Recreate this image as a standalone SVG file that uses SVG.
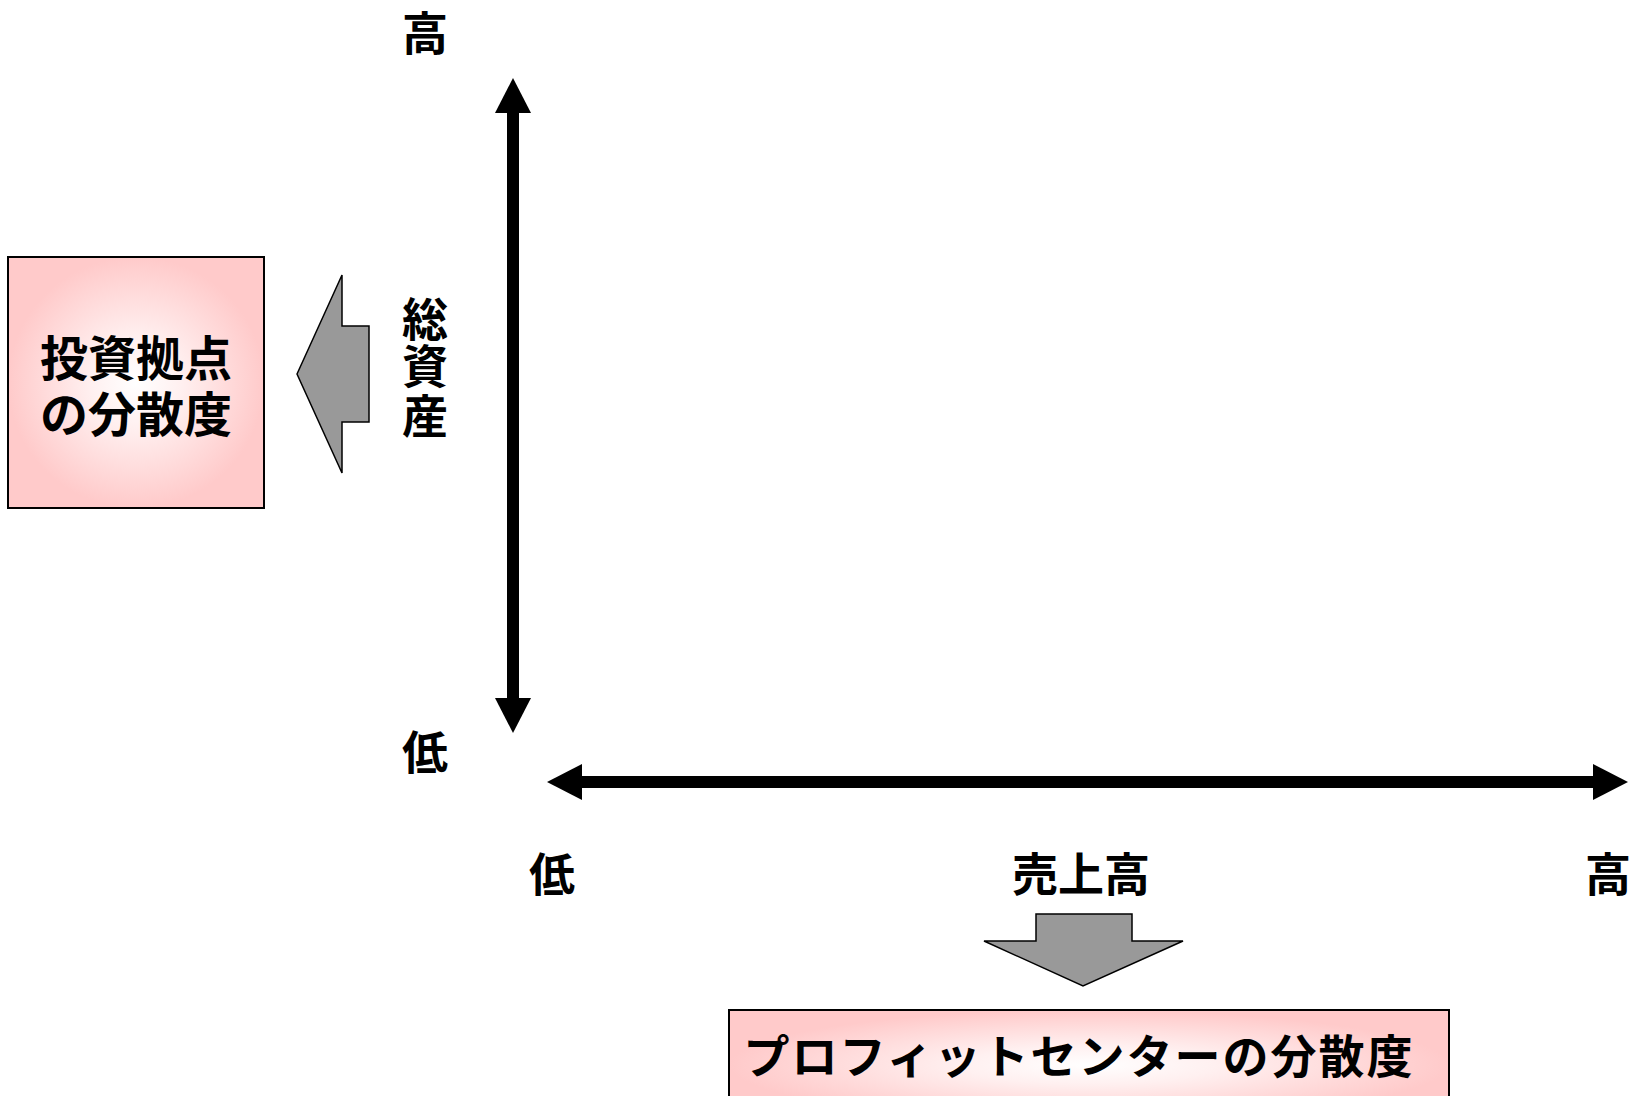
<svg xmlns="http://www.w3.org/2000/svg" width="1634" height="1096" viewBox="0 0 1634 1096">
  <defs>
    <radialGradient id="pinkGrad" cx="0.5" cy="0.5" r="0.5">
      <stop offset="0" stop-color="#FFFFFF"/>
      <stop offset="0.35" stop-color="#FFF0F0"/>
      <stop offset="1" stop-color="#FFCACA"/>
    </radialGradient>
    <style>
      .lbl { font-family: "Noto Sans CJK JP", "Noto Sans", sans-serif; font-weight: bold; fill: #000; text-anchor: middle; }
      .box { fill: url(#pinkGrad); stroke: #000; stroke-width: 2; }
      .blk { fill: #999999; stroke: #000; stroke-width: 1.5; stroke-linejoin: miter; }
      .axis { fill: #000; }
    </style>
  </defs>
  <rect width="1634" height="1096" fill="#FFFFFF"/>

  <g id="connectors">
    <g id="axis-vertical" class="axis">
      <rect x="507" y="110" width="12" height="591"/>
      <polygon points="513,78 495,113 531,113"/>
      <polygon points="513,733 495,698 531,698"/>
    </g>
    <g id="axis-horizontal" class="axis">
      <rect x="579" y="776" width="1017" height="12"/>
      <polygon points="547,782 582,764 582,800"/>
      <polygon points="1628,782 1593,764 1593,800"/>
    </g>
    <polygon id="arrow-left" class="blk" points="297,374 342,275 342,326 369,326 369,422 342,422 342,473"/>
    <polygon id="arrow-down" class="blk" points="1036,914 1132,914 1132,941 1183,941 1083,986 984,941 1036,941"/>
  </g>

  <g id="label-y-high">
    <text class="lbl" x="425" y="50" font-size="46">高</text>
  </g>
  <g id="label-y-low">
    <text class="lbl" x="425" y="769" font-size="46">低</text>
  </g>
  <g id="label-y-title">
    <text class="lbl" x="425" y="336" font-size="46">総</text>
    <text class="lbl" x="425" y="383" font-size="46">資</text>
    <text class="lbl" x="425" y="433" font-size="46">産</text>
  </g>
  <g id="label-x-low">
    <text class="lbl" x="552" y="891" font-size="46">低</text>
  </g>
  <g id="label-x-title">
    <text class="lbl" x="1081" y="891" font-size="46">売上高</text>
  </g>
  <g id="label-x-high">
    <text class="lbl" x="1608" y="891" font-size="46">高</text>
  </g>

  <g id="box-investment">
    <rect class="box" x="8" y="257" width="256" height="251"/>
    <text class="lbl" x="136" y="376" font-size="48">投資拠点</text>
    <text class="lbl" x="136" y="432" font-size="48">の分散度</text>
  </g>

  <g id="box-profit">
    <rect class="box" x="729" y="1010" width="720" height="110"/>
    <text class="lbl" x="1079" y="1073" font-size="46" letter-spacing="2">プロフィットセンターの分散度</text>
  </g>
</svg>
